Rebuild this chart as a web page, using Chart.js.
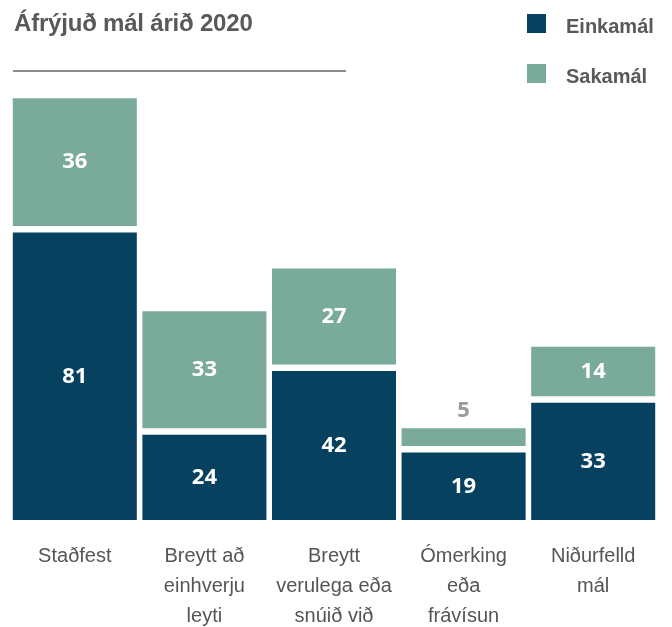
<!DOCTYPE html>
<html>
<head>
<meta charset="utf-8">
<script src="https://cdn.jsdelivr.net/npm/chart.js@4.4.1/dist/chart.umd.min.js"></script>
<style>
  html, body { margin: 0; padding: 0; background: #fff; }
  #wrap { position: relative; width: 672px; height: 627px; overflow: hidden; }
  #wrap canvas { position: absolute; left: 0; top: 0; }
  .title { position: absolute; left: 14px; top: 9px; font: bold 24px "Liberation Sans", Arial, sans-serif; color: #595959; letter-spacing: -0.2px; }
  .rule { position: absolute; left: 13px; top: 70px; width: 333px; height: 2px; background: #8c8c8c; }
  .leg { position: absolute; left: 527px; font: bold 20px "Liberation Sans", Arial, sans-serif; color: #595959; }
  .leg span { position: absolute; left: 0; top: 0; width: 19px; height: 19px; }
  .leg b { position: absolute; left: 39px; top: 1px; white-space: nowrap; }
</style>
</head>
<body>
<div id="wrap">
  <canvas id="myChart" width="672" height="627"></canvas>
  <div class="title">Áfrýjuð mál árið 2020</div>
  <div class="rule"></div>
  <div class="leg" style="top:14px"><span style="background:#06415f"></span><b>Einkamál</b></div>
  <div class="leg" style="top:64px"><span style="background:#79aa9a"></span><b>Sakamál</b></div>
</div>
<script>
// flokkar og gildi
const categories = [
  ["Staðfest"],
  ["Breytt að", "einhverju", "leyti"],
  ["Breytt", "verulega eða", "snúið við"],
  ["Ómerking", "eða", "frávísun"],
  ["Niðurfelld", "mál"]
];
const einkamal = [81, 24, 42, 19, 33];
const sakamal = [36, 33, 27, 5, 14];

const dark = "#06415f";
const teal = "#79aa9a";
const gap = 6.5; // hvitt bil milli hluta

// ýtir sakamál upp um smá bil
const gapPlugin = {
  id: "gap",
  beforeDatasetDraw(chart, args) {
    if (args.index === 1) {
      chart.ctx.save();
      chart.ctx.translate(0, -gap);
    }
  },
  afterDatasetDraw(chart, args) {
    if (args.index === 1) chart.ctx.restore();
  }
};

// tölur inni í súlunum
const labelPlugin = {
  id: "labels",
  afterDatasetsDraw(chart) {
    const ctx = chart.ctx;
    ctx.save();
    ctx.font = "bold 22px 'Open Sans', sans-serif";
    ctx.textAlign = "center";
    ctx.textBaseline = "middle";
    chart.data.datasets.forEach(function (ds, i) {
      const meta = chart.getDatasetMeta(i);
      const shift = i === 1 ? -gap : 0;
      meta.data.forEach(function (bar, j) {
        const p = bar.getProps(["x", "y", "base"], true);
        const h = p.base - p.y;
        if (h > 30) {
          ctx.fillStyle = "#ffffff";
          ctx.fillText(ds.data[j], p.x, (p.y + p.base) / 2 + shift);
        } else {
          ctx.fillStyle = "#9a9a9a";
          ctx.fillText(ds.data[j], p.x, p.y + shift - 18);
        }
      });
    });
    ctx.restore();
  }
};

const ctx = document.getElementById("myChart");

new Chart(ctx, {
  type: "bar",
  data: {
    labels: categories,
    datasets: [
      { label: "Einkamál", data: einkamal, backgroundColor: dark, borderWidth: 0 },
      { label: "Sakamál", data: sakamal, backgroundColor: teal, borderWidth: 0 }
    ]
  },
  options: {
    responsive: false,
    devicePixelRatio: 1,
    animation: false,
    barPercentage: 0.957,
    categoryPercentage: 1,
    layout: { padding: { left: 10, right: 14, top: 0, bottom: 0 } },
    plugins: {
      legend: { display: false },
      title: { display: false },
      tooltip: { enabled: false }
    },
    scales: {
      x: {
        stacked: true,
        grid: { display: false, drawTicks: false },
        border: { display: false },
        ticks: {
          padding: 21,
          maxRotation: 0,
          autoSkip: false,
          color: "#555555",
          font: { family: "'Liberation Sans', Arial, sans-serif", size: 20, lineHeight: 1.5 }
        },
        afterFit(scale) { scale.height = 107; }
      },
      y: {
        stacked: true,
        display: false,
        min: 0,
        max: 146.5
      }
    }
  },
  plugins: [gapPlugin, labelPlugin]
});
</script>
</body>
</html>
